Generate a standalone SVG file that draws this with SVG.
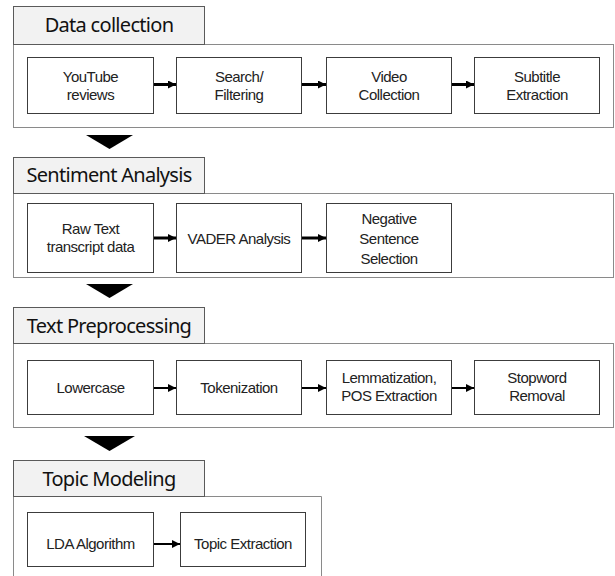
<svg xmlns="http://www.w3.org/2000/svg" width="615" height="576" viewBox="0 0 615 576">
  <style>
    .panel { fill: #ffffff; stroke: #8a8a8a; stroke-width: 1; }
    .head { fill: #f2f2f2; stroke: #5a5a5a; stroke-width: 1; }
    .box { fill: #ffffff; stroke: #3c3c3c; stroke-width: 1; }
    .ht { font-family: "Noto Sans", "Liberation Sans", sans-serif; font-size: 20px; fill: #111; text-anchor: middle; letter-spacing: -0.7px; }
    .nt { font-family: "Liberation Sans", Arial, sans-serif; font-size: 15px; fill: #222; text-anchor: middle; letter-spacing: -0.5px; }
    .thick { stroke: #000; stroke-width: 3; fill: none; }
    .thin { stroke: #000; stroke-width: 2; fill: none; }
    .tri { fill: #000; }
  </style>
  <defs>
    <marker id="ah" viewBox="0 0 8 8" refX="8" refY="4" markerWidth="8" markerHeight="8" markerUnits="userSpaceOnUse" orient="auto">
      <path d="M0,0 L8,4 L0,8 z" fill="#000"/>
    </marker>
  </defs>

  <!-- Stage 1: Data collection -->
  <g id="stage-data-collection">
    <rect class="panel" x="13.5" y="44.5" width="600" height="83"/>
    <rect class="head" x="13.5" y="6.5" width="191" height="38"/>
    <text class="ht" x="109" y="32">Data collection</text>
  </g>
  <g id="n-youtube">
    <rect class="box" x="27.5" y="57.5" width="126" height="56"/>
    <text class="nt" x="90.5" y="82">YouTube</text>
    <text class="nt" x="90.5" y="100">reviews</text>
  </g>
  <g id="n-search">
    <rect class="box" x="176.5" y="57.5" width="125" height="56"/>
    <text class="nt" x="239" y="82">Search/</text>
    <text class="nt" x="239" y="100">Filtering</text>
  </g>
  <g id="n-video">
    <rect class="box" x="326.5" y="57.5" width="125" height="56"/>
    <text class="nt" x="389" y="82">Video</text>
    <text class="nt" x="389" y="100">Collection</text>
  </g>
  <g id="n-subtitle">
    <rect class="box" x="474.5" y="57.5" width="125" height="56"/>
    <text class="nt" x="537" y="82">Subtitle</text>
    <text class="nt" x="537" y="100">Extraction</text>
  </g>

  <!-- Stage 2: Sentiment Analysis -->
  <g id="stage-sentiment">
    <rect class="panel" x="13.5" y="193.5" width="600" height="84"/>
    <rect class="head" x="13.5" y="157.5" width="191" height="36"/>
    <text class="ht" x="109" y="182">Sentiment Analysis</text>
  </g>
  <g id="n-rawtext">
    <rect class="box" x="27.5" y="203.5" width="126" height="69"/>
    <text class="nt" x="90.5" y="234">Raw Text</text>
    <text class="nt" x="90.5" y="252">transcript data</text>
  </g>
  <g id="n-vader">
    <rect class="box" x="176.5" y="203.5" width="125" height="69"/>
    <text class="nt" x="239" y="244">VADER Analysis</text>
  </g>
  <g id="n-negative">
    <rect class="box" x="326.5" y="203.5" width="125" height="69"/>
    <text class="nt" x="389" y="224">Negative</text>
    <text class="nt" x="389" y="244">Sentence</text>
    <text class="nt" x="389" y="264">Selection</text>
  </g>

  <!-- Stage 3: Text Preprocessing -->
  <g id="stage-preprocessing">
    <rect class="panel" x="13.5" y="343.5" width="600" height="84"/>
    <rect class="head" x="13.5" y="307.5" width="191" height="36"/>
    <text class="ht" x="109" y="333">Text Preprocessing</text>
  </g>
  <g id="n-lowercase">
    <rect class="box" x="27.5" y="360.5" width="126" height="54"/>
    <text class="nt" x="90.5" y="393">Lowercase</text>
  </g>
  <g id="n-tokenization">
    <rect class="box" x="176.5" y="360.5" width="125" height="54"/>
    <text class="nt" x="239" y="393">Tokenization</text>
  </g>
  <g id="n-lemma">
    <rect class="box" x="326.5" y="360.5" width="125" height="54"/>
    <text class="nt" x="389" y="383">Lemmatization,</text>
    <text class="nt" x="389" y="401">POS Extraction</text>
  </g>
  <g id="n-stopword">
    <rect class="box" x="474.5" y="360.5" width="125" height="54"/>
    <text class="nt" x="537" y="383">Stopword</text>
    <text class="nt" x="537" y="401">Removal</text>
  </g>

  <!-- Stage 4: Topic Modeling -->
  <g id="stage-topic">
    <path class="panel" d="M13.5,580 V496.5 H321.5 V580"/>
    <rect class="head" x="13.5" y="460.5" width="191" height="36"/>
    <text class="ht" x="109" y="486">Topic Modeling</text>
  </g>
  <g id="n-lda">
    <rect class="box" x="27.5" y="512.5" width="126" height="54"/>
    <text class="nt" x="90.5" y="549">LDA Algorithm</text>
  </g>
  <g id="n-topic-extraction">
    <rect class="box" x="180.5" y="512.5" width="125" height="54"/>
    <text class="nt" x="243" y="549">Topic Extraction</text>
  </g>

  <!-- Connectors -->
  <g id="connectors">
    <line class="thick" x1="154" y1="84.5" x2="176" y2="84.5" marker-end="url(#ah)"/>
    <line class="thick" x1="302" y1="84.5" x2="326" y2="84.5" marker-end="url(#ah)"/>
    <line class="thick" x1="452" y1="84.5" x2="474" y2="84.5" marker-end="url(#ah)"/>

    <line class="thick" x1="154" y1="238" x2="176" y2="238" marker-end="url(#ah)"/>
    <line class="thick" x1="302" y1="238" x2="326" y2="238" marker-end="url(#ah)"/>

    <line class="thin" x1="154" y1="388" x2="176" y2="388" marker-end="url(#ah)"/>
    <line class="thin" x1="302" y1="388" x2="326" y2="388" marker-end="url(#ah)"/>
    <line class="thin" x1="452" y1="388" x2="474" y2="388" marker-end="url(#ah)"/>

    <line class="thin" x1="154" y1="544" x2="180" y2="544" marker-end="url(#ah)"/>

    <!-- stage-to-stage arrows -->
    <polygon class="tri" points="86,135 133,135 109.5,149"/>
    <polygon class="tri" points="86,284 133,284 109.5,298"/>
    <polygon class="tri" points="84,436 135,436 109.5,451"/>
  </g>
</svg>
